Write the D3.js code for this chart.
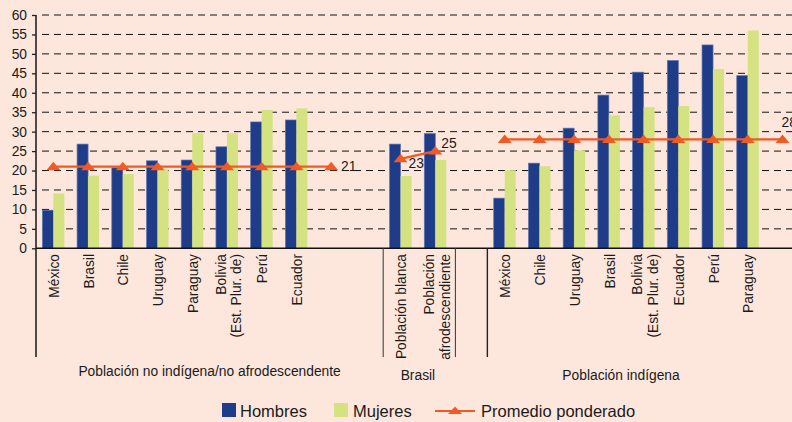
<!DOCTYPE html>
<html>
<head>
<meta charset="utf-8">
<script src="https://cdn.jsdelivr.net/npm/d3@7"></script>
<style>
  html, body { margin: 0; padding: 0; background: #fde7dd; }
  svg { display: block; font-family: "Liberation Sans", Arial, sans-serif; }
</style>
</head>
<body>
<svg id="chart" width="792" height="422"></svg>
<script>
// Category slots along the x axis ("" = empty spacer slot, "\n" splits a label into lines)
const categories = [
  "México", "Brasil", "Chile", "Uruguay", "Paraguay", "Bolivia\n(Est. Plur. de)", "Perú", "Ecuador", "", "",
  "Población blanca", "Población\nafrodescendiente", "",
  "México", "Chile", "Uruguay", "Brasil", "Bolivia\n(Est. Plur. de)", "Ecuador", "Perú", "Paraguay", ""
];
const hombres = [9.8, 26.8, 20.7, 22.5, 22.7, 26.1, 32.5, 33.0, null, null,
  26.8, 29.5, null,
  12.9, 21.9, 30.9, 39.4, 45.3, 48.3, 52.3, 44.4, null];
const mujeres = [14.1, 18.7, 19.1, 20.3, 29.6, 29.6, 35.6, 36.0, null, null,
  18.6, 22.7, null,
  20.1, 21.1, 25.2, 34.2, 36.3, 36.6, 46.1, 56.0, null];
const promedio = [21, 21, 21, 21, 21, 21, 21, 21, 21, null,
  23, 25, null,
  28, 28, 28, 28, 28, 28, 28, 28, 28];
// Slots whose weighted-average value is printed next to the marker
const promedioLabelSlots = [8, 10, 11, 21];

// Group headings under the category labels
const groupNames = ["Población no indígena/no afrodescendente", "Brasil", "Población indígena"];

const yTicks = [0, 5, 10, 15, 20, 25, 30, 35, 40, 45, 50, 55, 60];
const legendItems = ["Hombres", "Mujeres", "Promedio ponderado"];

// ---- layout ----
const W = 792, H = 422;
const left = 36, slotW = 34.72;
const yBottom = 248.3, yTop = 15;
const sepBottom = 357;
const font = 13.8;

const colBlue = "#1e3c87", colBlueEdge = "#6274b2";
const colGreen = "#d4e281";
const colOrange = "#f05a24";
const colText = "#1a1a1a";

const svg = d3.select("#chart");
svg.append("rect").attr("width", W).attr("height", H).attr("fill", "#fde7dd");

const x = d3.scaleBand()
  .domain(d3.range(categories.length))
  .range([left, left + slotW * categories.length])
  .padding(0);
const cx = i => x(i) + x.bandwidth() / 2;
const y = d3.scaleLinear().domain([0, 60]).range([yBottom, yTop]);
// boundary position in slot units (fractional allowed)
const bx = k => left + slotW * k;

// dashed gridlines
svg.append("g")
  .selectAll("line")
  .data(yTicks.filter(t => t > 0))
  .join("line")
  .attr("x1", 42).attr("x2", W)
  .attr("y1", d => y(d)).attr("y2", d => y(d))
  .attr("stroke", "#111")
  .attr("stroke-width", 1)
  .attr("stroke-dasharray", "7,5");

// y axis ticks + labels
const yAxis = d3.axisLeft(y).tickValues(yTicks).tickSize(4).tickPadding(5);
const gy = svg.append("g").attr("transform", `translate(${left},0)`).call(yAxis);
gy.select(".domain").remove();
gy.selectAll(".tick line").attr("stroke", "#222").attr("stroke-width", 1.3);
gy.selectAll(".tick text")
  .attr("font-size", font).attr("fill", colText)
  .attr("font-family", "Liberation Sans, Arial, sans-serif");

// bars
const barW = 11;
const bars = svg.append("g");
bars.selectAll("rect.h")
  .data(hombres.map((v, i) => ({ v, i })).filter(d => d.v != null))
  .join("rect")
  .attr("class", "h")
  .attr("x", d => cx(d.i) - barW)
  .attr("width", barW)
  .attr("y", d => y(d.v))
  .attr("height", d => y(0) - y(d.v))
  .attr("fill", colBlue)
  .attr("stroke", colBlueEdge)
  .attr("stroke-width", 0.7);
bars.selectAll("rect.m")
  .data(mujeres.map((v, i) => ({ v, i })).filter(d => d.v != null))
  .join("rect")
  .attr("class", "m")
  .attr("x", d => cx(d.i))
  .attr("width", barW)
  .attr("y", d => y(d.v))
  .attr("height", d => y(0) - y(d.v))
  .attr("fill", colGreen);

// axes lines
svg.append("line")
  .attr("x1", left).attr("x2", W)
  .attr("y1", y(0)).attr("y2", y(0))
  .attr("stroke", "#111").attr("stroke-width", 1.6);
svg.append("line")
  .attr("x1", left).attr("x2", left)
  .attr("y1", yTop).attr("y2", sepBottom)
  .attr("stroke", "#222").attr("stroke-width", 1.6);

// group separators below the axis
const sepSlots = [10, 12.08, 13];
svg.append("g").selectAll("line")
  .data(sepSlots)
  .join("line")
  .attr("x1", d => bx(d)).attr("x2", d => bx(d))
  .attr("y1", y(0)).attr("y2", sepBottom)
  .attr("stroke", (d, i) => i === 2 ? "#222" : "#444")
  .attr("stroke-width", (d, i) => i === 2 ? 1.4 : 1.1);

// weighted-average line and triangle markers
const tri = (px, py, hw, up, down) =>
  `M${px},${py - up}L${px + hw},${py + down}L${px - hw},${py + down}Z`;
const line = d3.line()
  .defined(d => d.v != null)
  .x(d => cx(d.i))
  .y(d => y(d.v));
const promData = promedio.map((v, i) => ({ v, i }));
svg.append("path")
  .datum(promData)
  .attr("d", line)
  .attr("fill", "none")
  .attr("stroke", colOrange)
  .attr("stroke-width", 2.2);
svg.append("g").selectAll("path")
  .data(promData.filter(d => d.v != null))
  .join("path")
  .attr("d", d => tri(cx(d.i), y(d.v), 7, 5, 3.5))
  .attr("fill", colOrange);

// value labels on the average line (the last one runs off the right edge)
const labelOffset = { 8: [10, 4.5], 10: [8, 9], 11: [6, -3], 21: [-1, -12] };
svg.append("g").selectAll("text")
  .data(promedioLabelSlots)
  .join("text")
  .attr("x", i => cx(i) + labelOffset[i][0])
  .attr("y", i => y(promedio[i]) + labelOffset[i][1])
  .attr("font-size", font)
  .attr("fill", colText)
  .text(i => promedio[i]);

// rotated category labels
const lh = 15.6;
const catG = svg.append("g");
categories.forEach((c, i) => {
  if (!c) return;
  const lines = c.split("\n");
  const n = lines.length;
  const g = catG.append("g")
    .attr("transform", `translate(${cx(i)},254) rotate(-90)`);
  const t = g.append("text")
    .attr("text-anchor", "end")
    .attr("font-size", font)
    .attr("fill", colText);
  lines.forEach((ln, k) => {
    const off = n === 1 ? 0.8 : (k - (n - 1) / 2) * lh + 1.8;
    t.append("tspan")
      .attr("x", 0)
      .attr("y", off)
      .attr("dy", "0.35em")
      .text(ln);
  });
});

// group headings
const groupCenterSlot = [5, 11, 16.85];
const groupBaseline = [376, 380, 380];
svg.append("g").selectAll("text")
  .data(groupNames)
  .join("text")
  .attr("x", (d, i) => bx(groupCenterSlot[i]))
  .attr("y", (d, i) => groupBaseline[i])
  .attr("text-anchor", "middle")
  .attr("font-size", font)
  .attr("fill", colText)
  .text(d => d);

// legend
const lf = 16.5;
const lg = svg.append("g");
lg.append("rect").attr("x", 222).attr("y", 403).attr("width", 14).attr("height", 14).attr("fill", colBlue);
lg.append("text").attr("x", 240).attr("y", 417).attr("font-size", lf).attr("fill", colText).text(legendItems[0]);
lg.append("rect").attr("x", 334).attr("y", 403).attr("width", 14).attr("height", 14).attr("fill", colGreen);
lg.append("text").attr("x", 353).attr("y", 417).attr("font-size", lf).attr("fill", colText).text(legendItems[1]);
lg.append("line").attr("x1", 435).attr("x2", 475).attr("y1", 411).attr("y2", 411)
  .attr("stroke", colOrange).attr("stroke-width", 2.2);
lg.append("path").attr("d", tri(455, 411, 7, 4.5, 3)).attr("fill", colOrange);
lg.append("text").attr("x", 481).attr("y", 417).attr("font-size", lf).attr("fill", colText).text(legendItems[2]);
</script>
</body>
</html>
